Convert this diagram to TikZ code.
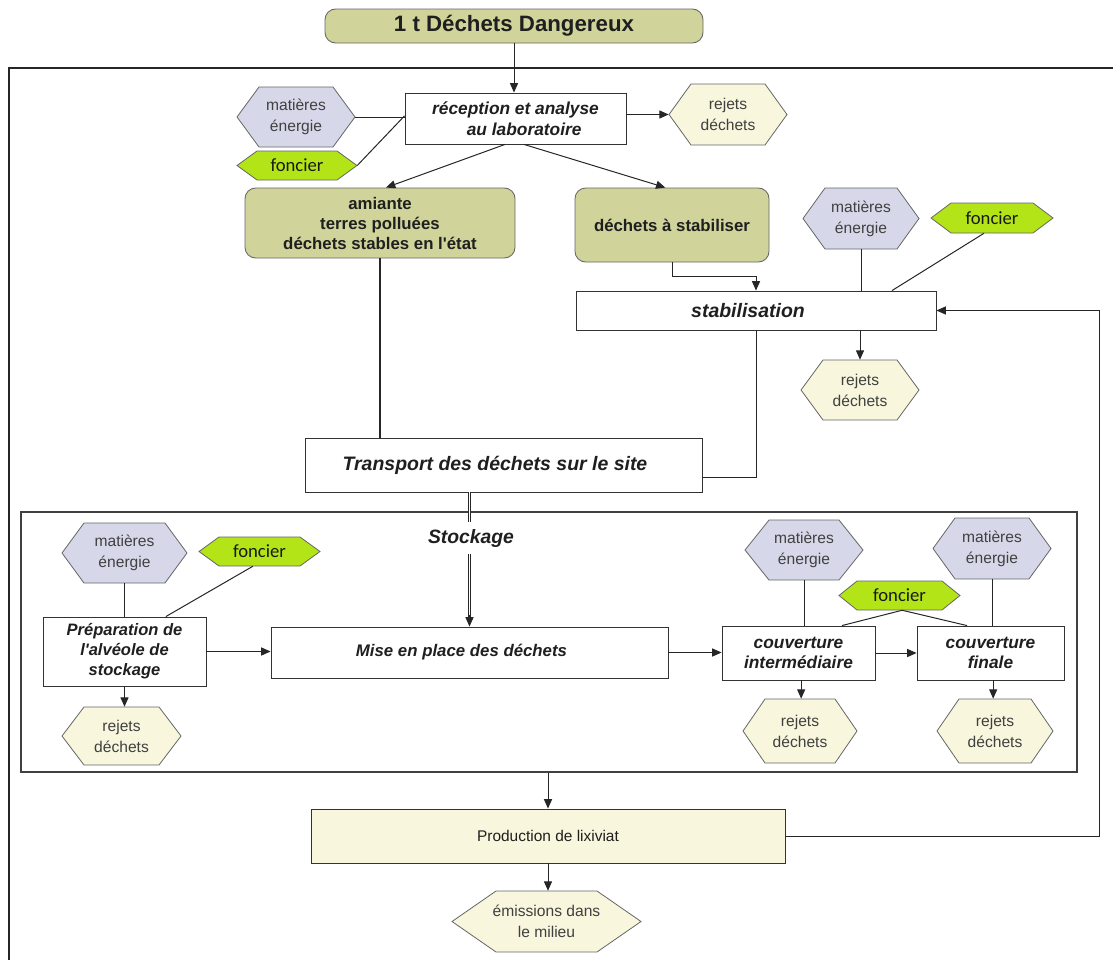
\documentclass[tikz,border=0pt]{standalone}
\usepackage{fontspec}
\setmainfont{Liberation Sans}
\newfontfamily\calfont{Carlito}
\usetikzlibrary{arrows.meta}
\definecolor{oliveF}{RGB}{208,212,154}
\definecolor{lavF}{RGB}{214,216,233}
\definecolor{limeF}{RGB}{178,228,24}
\definecolor{creamF}{RGB}{248,246,221}
\newcommand\bx[7]{\node[#6, minimum width={(#4-#2)*0.75pt}, minimum height={(#5-#3)*0.75pt}] (#1) at ({(#2+#4)/2},{(#3+#5)/2}) {#7};}
\newcommand\hx[9]{%
  \filldraw[hexline, fill=#7] ({#2+#6},#3) -- ({#4-#6},#3) -- (#4,{(#3+#5)/2}) -- ({#4-#6},#5) -- ({#2+#6},#5) -- (#2,{(#3+#5)/2}) -- cycle;
  \node[#8, minimum width={(#4-#2)*0.75pt}, minimum height={(#5-#3)*0.75pt}] (#1) at ({(#2+#4)/2},{(#3+#5)/2}) {#9};}
\begin{document}
\begin{tikzpicture}[x=0.75pt,y=-0.75pt,
  line/.style={draw=black!85, line width=0.75pt},
  arr/.style={line, -{Triangle[length=7pt,width=6pt]}},
  box/.style={draw=black!80, line width=0.65pt, fill=white, inner sep=0pt, align=center, text=black!88},
  rbox/.style={box, fill=oliveF, rounded corners=8pt, draw=black!60},
  frame/.style={draw=black!75, line width=0.9pt, inner sep=0pt},
  hexline/.style={draw=black!60, line width=0.6pt},
  hextext/.style={inner sep=0pt, align=center, font=\fontsize{11.7}{15.7}\selectfont, text=black!75},
  fonc/.style={hextext, font=\calfont\fontsize{14}{16}\selectfont, text=black!90},
  bt/.style={font=\bfseries\fontsize{12.6}{15}\selectfont},
  bit/.style={font=\bfseries\itshape\fontsize{13}{15.5}\selectfont},
  big/.style={font=\bfseries\itshape\fontsize{14.6}{17}\selectfont}
]
\useasboundingbox (0,0) rectangle (1113,960);
\draw[line width=2pt, black!85] (1113,68) -- (9,68) -- (9,960);

% boxes
\bx{title}{325}{9}{703}{43}{rbox, font=\bfseries\fontsize{16.7}{19}\selectfont}{1 t Déchets Dangereux}
\bx{recep}{405}{93}{626}{144}{box, bit}{réception et analyse\\\hspace*{13pt}au laboratoire}
\bx{amiante}{245}{188}{515}{258}{rbox, bt}{amiante\\terres polluées\\déchets stables en l\textquotesingle état}
\bx{dstab}{575}{188}{769}{262}{rbox, bt}{déchets à stabiliser}
\bx{stab}{576}{291}{936}{330}{box, big}{stabilisation\hspace*{12pt}}
\bx{transport}{305}{438}{702}{492}{box, big}{Transport des déchets sur le site\hspace*{12.8pt}}
\bx{stock}{21}{512}{1077}{772}{frame}{}
\bx{prep}{43}{617}{206}{686}{box, bit, font=\bfseries\itshape\fontsize{12.4}{15}\selectfont}{Préparation de\\l\textquotesingle alvéole de\\stockage}
\bx{mise}{271}{627}{668}{678}{box, bt, font=\bfseries\itshape\fontsize{12.6}{15}\selectfont}{Mise en place des déchets\hspace*{12pt}}
\bx{ci}{722}{626}{875}{680}{box, bit}{couverture\\intermédiaire}
\bx{cf}{917}{626}{1064}{680}{box, bit}{couverture\\finale}
\bx{prod}{311}{809}{785}{863}{box, fill=creamF, font=\fontsize{11.6}{14}\selectfont}{Production de lixiviat}

% hexagons
\hx{m1}{237}{87}{355}{147}{22}{lavF}{hextext}{matières\\énergie}
\hx{f1}{237}{151}{357}{180}{20}{limeF}{fonc}{foncier}
\hx{r1}{669}{84}{787}{145}{22}{creamF}{hextext}{rejets\\déchets}
\hx{m2}{803}{188}{919}{249}{22}{lavF}{hextext}{matières\\énergie}
\hx{f2}{931}{203}{1053}{233}{20}{limeF}{fonc}{foncier}
\hx{r2}{801}{360}{919}{420}{22}{creamF}{hextext}{rejets\\déchets}
\hx{m3}{62}{523}{187}{583}{22}{lavF}{hextext}{matières\\énergie}
\hx{f3}{199}{537}{320}{566}{20}{limeF}{fonc}{foncier}
\hx{r3}{62}{707}{181}{765}{22}{creamF}{hextext}{rejets\\déchets}
\hx{m4}{745}{520}{863}{580}{24}{lavF}{hextext}{matières\\énergie}
\hx{f4}{839}{581}{960}{610}{18}{limeF}{fonc}{foncier}
\hx{m5}{933}{518}{1051}{579}{22}{lavF}{hextext}{matières\\énergie}
\hx{r4}{743}{699}{857}{763}{22}{creamF}{hextext}{rejets\\déchets}
\hx{r5}{937}{699}{1053}{763}{22}{creamF}{hextext}{rejets\\déchets}
\hx{em}{452}{891}{641}{952}{44}{creamF}{hextext}{émissions dans\\le milieu}

% connectors
\draw[arr] (title.south) -- (title.south |- recep.north);
\draw[line] (m1.east) -- (m1.east -| recep.west);
\draw[line] (f1.east) -- ([yshift=2pt]recep.west);
\draw[arr] (r1.west -| recep.east) -- (r1.west);
\draw[arr] ([xshift=-7.9pt]recep.south) -- ([xshift=4.5pt]amiante.north);
\draw[arr] ([xshift=6.4pt]recep.south) -- ([xshift=-5pt]dstab.north);
\draw[arr] (dstab.south) -- ++(0,14) -| (stab.north);
\draw[line] (m2.south) -- (m2.south |- stab.north);
\draw[line] ([xshift=-6pt]f2.south) -- ([xshift=102pt]stab.north);
\draw[arr] (r2.north |- stab.south) -- (r2.north);
\draw[line, line width=1.5pt] (amiante.south) -- (amiante.south |- transport.north);
\draw[line] (stab.south) |- ([yshift=-9pt]transport.east);
\draw[draw=black!85, double=white, double distance=1.2pt, line width=0.7pt] (transport.south -| mise.north) -- ([yshift=7pt]mise.north);
\draw[arr] ([yshift=9pt]mise.north) -- (mise.north);
\node[fill=white, inner xsep=2pt, inner ysep=5pt, font=\bfseries\itshape\fontsize{14.5}{17}\selectfont, text=black!88] (stocklbl) at (471,538) {Stockage};
\draw[line] (m3.south) -- (m3.south |- prep.north);
\draw[line] ([xshift=-5pt]f3.south) -- ([xshift=31pt]prep.north);
\draw[arr] (prep.south) -- (prep.south |- r3.north);
\draw[arr] (prep.east) -- (prep.east -| mise.west);
\draw[arr] (mise.east) -- (mise.east -| ci.west);
\draw[line] (m4.south) -- (m4.south |- ci.north);
\draw[line] ([xshift=2pt]f4.south) -- ([xshift=32.6pt]ci.north);
\draw[line] ([xshift=2pt]f4.south) -- ([xshift=-17.6pt]cf.north);
\draw[line] (m5.south) -- (m5.south |- cf.north);
\draw[arr] (ci.east) -- (ci.east -| cf.west);
\draw[arr] ([xshift=2pt]ci.south) -- ([xshift=2pt]ci.south |- r4.north);
\draw[arr] ([xshift=2pt]cf.south) -- ([xshift=2pt]cf.south |- r5.north);
\draw[arr] (prod.north |- stock.south) -- (prod.north);
\draw[arr] (prod.south) -- (prod.south |- em.north);
\draw[arr] (prod.east) -- ++(314,0) |- (stab.east);
\end{tikzpicture}
\end{document}
